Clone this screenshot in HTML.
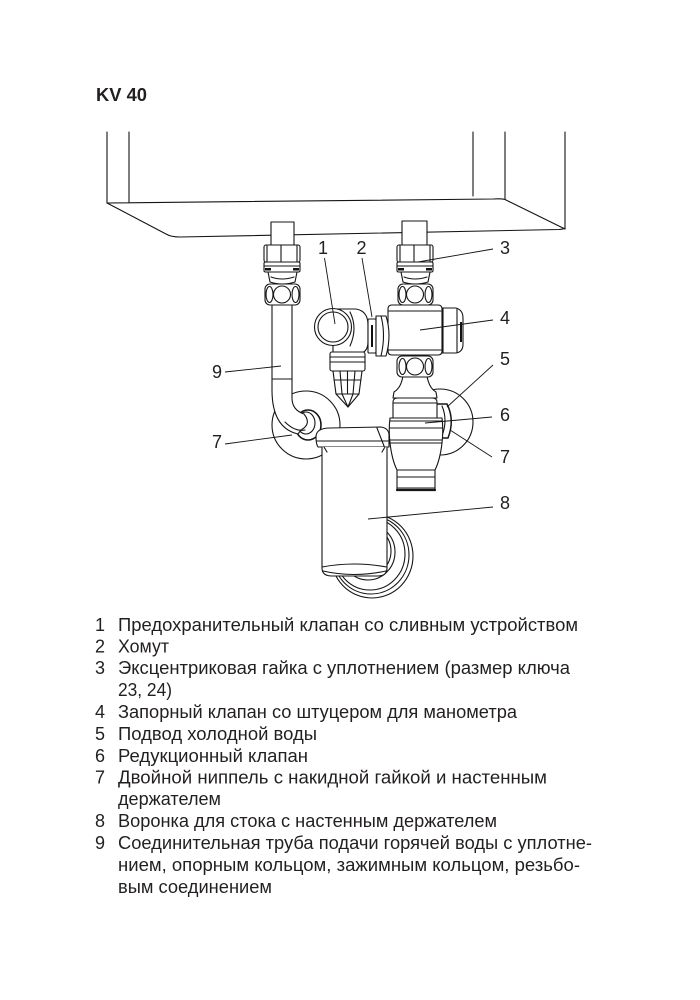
<!DOCTYPE html>
<html><head><meta charset="utf-8">
<style>
html,body{margin:0;padding:0;background:#fff;}
svg{display:block;}
text{font-family:"Liberation Sans","DejaVu Sans",sans-serif;fill:#231f20;}
</style></head><body>
<svg width="700" height="1000" viewBox="0 0 700 1000" xmlns="http://www.w3.org/2000/svg">
<text x="96" y="101" font-size="18" font-weight="bold" textLength="51" lengthAdjust="spacingAndGlyphs">KV 40</text>

<g fill="none" stroke="#151515" stroke-width="1.1" stroke-linejoin="round" stroke-linecap="round">
<!-- boiler -->
<path d="M107,132V203 M129,132V202 M473,132V196 M505,132V199 M565,132V229"/>
<path d="M107,203 L493,199 Q501,198.5 505,199.5 L565,229"/>
<path d="M107,203 L166,234 Q171,237 180,237 L559,229.5 Q563,229.3 565,228"/>

<!-- wall plates -->
<circle cx="306" cy="425" r="34" fill="#fff"/>
<circle cx="440" cy="422" r="33" fill="#fff"/>
<ellipse cx="372" cy="556" rx="41" ry="42" fill="#fff"/>
<ellipse cx="371" cy="555" rx="38" ry="39"/>
<ellipse cx="370" cy="554" rx="35" ry="36"/>
<ellipse cx="368" cy="552" rx="27" ry="28"/>
<ellipse cx="367" cy="551" rx="24" ry="25"/>

<!-- left nut on plate -->
<ellipse cx="308" cy="425" rx="13" ry="15" fill="#fff" stroke-width="1.6"/>
<ellipse cx="306" cy="423" rx="9" ry="11"/>

<!-- pipe 9 -->
<path d="M272,300 V390 Q272,428 298,434 L301,430 Q312,424 304,414 Q292,410 292,398 V300 Z" fill="#fff"/>
<path d="M272,379 H292"/>
<path d="M285,422 Q295,432 305,430"/>

<!-- funnel 8 -->
<path d="M316,437 Q316,428 330,428 L381,427 Q388,428 389,434 V447 H318 Q316,444 316,437 Z" fill="#fff"/>
<path d="M317,441 H389 M377,428 L384,446"/>
<path d="M322,447 V568 Q322,576 332,576 H378 Q387,576 387,568 V447" fill="#fff"/>
<path d="M322,567 Q354,561 387,567 M323,571 Q354,578 386,571"/>
<path d="M324,447 L327,452 M385,447 L382,452"/>

<!-- right nut on plate -->
<path d="M436,404 H447 Q455,420 448,438 H436 Z" fill="#fff" stroke-width="1.5"/>
<path d="M442,406 Q448,420 442,436"/>

<!-- valve 6 -->
<path d="M403,376 L427,376 Q429,388 436,392 L437,398 L393,398 L394,392 Q401,388 403,376 Z" fill="#fff"/>
<path d="M393,418 V402 Q393,398 398,398 H432 Q437,398 437,402 V418 Z" fill="#fff"/>
<path d="M393,403 H437"/>
<path d="M390,418 H442 Q443.5,430 442,443 H390 Q388.5,430 390,418 Z" fill="#fff"/>
<path d="M390,421 H442 M389.5,428 H442.5 M390,440 H442"/>
<path d="M390,443 Q392,460 397,470 H435 Q440,460 442,443 Z" fill="#fff"/>
<rect x="397" y="470" width="38" height="20" fill="#fff"/>
<path d="M397,477 H435 M397,488 H435"/>
<path d="M397,490 H435" stroke-width="2.2"/>

<!-- left fitting -->
<rect x="271" y="222" width="23" height="23" fill="#fff"/>
<rect x="264" y="245" width="36" height="17" rx="2" fill="#fff"/>
<path d="M267,245V262 M281,245V262 M297,245V262"/>
<rect x="264" y="262" width="36" height="10" rx="1.5" fill="#fff"/>
<path d="M264,266H300"/>
<path d="M268,272 H297 L295,282 Q282,286 270,282 Z" fill="#fff"/>
<path d="M271,277 Q282,281 294,277"/>
<rect x="265" y="284" width="35" height="21" rx="5" fill="#fff"/>
<ellipse cx="282" cy="294.5" rx="8.5" ry="8.5"/>
<ellipse cx="269.5" cy="294.5" rx="3.5" ry="8"/>
<ellipse cx="295.5" cy="294.5" rx="3.5" ry="8"/>

<!-- right fitting -->
<rect x="402" y="221" width="25" height="24" fill="#fff"/>
<rect x="397" y="245" width="36" height="17" rx="2" fill="#fff"/>
<path d="M400,245V262 M414,245V262 M430,245V262"/>
<rect x="397" y="262" width="36" height="10" rx="1.5" fill="#fff"/>
<path d="M397,266H433"/>
<path d="M401,272 H430 L428,282 Q415,286 403,282 Z" fill="#fff"/>
<path d="M404,277 Q415,281 427,277"/>
<rect x="398" y="284" width="35" height="21" rx="5" fill="#fff"/>
<ellipse cx="415" cy="294.5" rx="8.5" ry="8.5"/>
<ellipse cx="402.5" cy="294.5" rx="3.5" ry="8"/>
<ellipse cx="428.5" cy="294.5" rx="3.5" ry="8"/>

<!-- valve 4 -->
<path d="M438,308 H456 Q463,310 463,318 V344 Q463,352 456,353 H438 Z" fill="#fff"/>
<path d="M443,308V353 M457,309V352"/>
<path d="M392,305 H438 Q442,305 442,309 V351 Q442,355 438,355 H392 Q388,355 388,351 V309 Q388,305 392,305Z" fill="#fff"/>
<path d="M388,311 H441 M388,350 H441"/>
<rect x="397" y="356" width="36" height="21" rx="5" fill="#fff"/>
<ellipse cx="415" cy="366.5" rx="8.5" ry="8.5"/>
<ellipse cx="402.5" cy="366.5" rx="3.5" ry="8"/>
<ellipse cx="428.5" cy="366.5" rx="3.5" ry="8"/>

<!-- safety valve 1 -->
<path d="M333,309 H356 Q368,311 368,325 V342 Q368,354 356,354 H333 Z" fill="#fff"/>
<path d="M350,312 Q358,328 350,346"/>
<rect x="330" y="352" width="35" height="19" rx="2" fill="#fff"/>
<path d="M330,357 H365 M330,362 H365"/>
<path d="M333,371 H362 L359,394 H336 Z" fill="#fff"/>
<path d="M340,371 L342,394 M347.5,371 V394 M355,371 L353,394 M334,380 H361"/>
<path d="M336,394 H359 L348,407 Z" fill="#fff"/>
<path d="M342,394 L348,407 M353,394 L348,407"/>
<circle cx="333" cy="327" r="18.5" fill="#fff"/>
<circle cx="333" cy="327" r="15"/>

<!-- clamp 2 -->
<rect x="368" y="319" width="8" height="34" rx="1" fill="#fff"/>
<path d="M376,316 H386 Q392,335 386,356 H376 Z" fill="#fff"/>
<path d="M381,316 Q386,335 381,356"/>
</g>
<rect x="371" y="325" width="2" height="22" fill="#111"/>
<rect x="460" y="322" width="2" height="20" fill="#111"/>
<rect x="265" y="268" width="6" height="2.5" fill="#111"/>
<rect x="293" y="268" width="6" height="2.5" fill="#111"/>
<rect x="398" y="268" width="6" height="2.5" fill="#111"/>
<rect x="426" y="268" width="6" height="2.5" fill="#111"/>

<!-- leader lines -->
<g stroke="#151515" stroke-width="0.9" fill="none">
<path d="M324.5,258 L335,324"/>
<path d="M362,258 L372,317"/>
<path d="M493,249 L418,262"/>
<path d="M493,320 L420,330"/>
<path d="M493,365 L447,407"/>
<path d="M492,417 L425,423"/>
<path d="M492,457 L450,430"/>
<path d="M225,444 L292,435"/>
<path d="M225,372 L281,366"/>
<path d="M493,507 L368,519"/>
</g>

<g font-size="18" text-anchor="middle">
<text x="323" y="254">1</text>
<text x="361.5" y="254">2</text>
<text x="505" y="254">3</text>
<text x="505" y="324">4</text>
<text x="505" y="365">5</text>
<text x="505" y="421">6</text>
<text x="505" y="463">7</text>
<text x="505" y="509">8</text>
<text x="217" y="378">9</text>
<text x="217" y="448">7</text>
</g>

<g font-size="18">
<text x="95" y="631">1</text>
<text x="118" y="631" textLength="460" lengthAdjust="spacingAndGlyphs">Предохранительный клапан со сливным устройством</text>
<text x="95" y="652.5">2</text>
<text x="118" y="652.5" textLength="51" lengthAdjust="spacingAndGlyphs">Хомут</text>
<text x="95" y="674">3</text>
<text x="118" y="674" textLength="452" lengthAdjust="spacingAndGlyphs">Эксцентриковая гайка с уплотнением (размер ключа</text>
<text x="118" y="696" textLength="54" lengthAdjust="spacingAndGlyphs">23, 24)</text>
<text x="95" y="718">4</text>
<text x="118" y="718" textLength="399" lengthAdjust="spacingAndGlyphs">Запорный клапан со штуцером для манометра</text>
<text x="95" y="740">5</text>
<text x="118" y="740" textLength="199" lengthAdjust="spacingAndGlyphs">Подвод холодной воды</text>
<text x="95" y="762">6</text>
<text x="118" y="762" textLength="190" lengthAdjust="spacingAndGlyphs">Редукционный клапан</text>
<text x="95" y="783.5">7</text>
<text x="118" y="783.5" textLength="429" lengthAdjust="spacingAndGlyphs">Двойной ниппель с накидной гайкой и настенным</text>
<text x="118" y="805" textLength="103" lengthAdjust="spacingAndGlyphs">держателем</text>
<text x="95" y="827">8</text>
<text x="118" y="827" textLength="379" lengthAdjust="spacingAndGlyphs">Воронка для стока с настенным держателем</text>
<text x="95" y="849">9</text>
<text x="118" y="849" textLength="474" lengthAdjust="spacingAndGlyphs">Соединительная труба подачи горячей воды с уплотне-</text>
<text x="118" y="871" textLength="462" lengthAdjust="spacingAndGlyphs">нием, опорным кольцом, зажимным кольцом, резьбо-</text>
<text x="118" y="893" textLength="154" lengthAdjust="spacingAndGlyphs">вым соединением</text>
</g>
</svg>
</body></html>
